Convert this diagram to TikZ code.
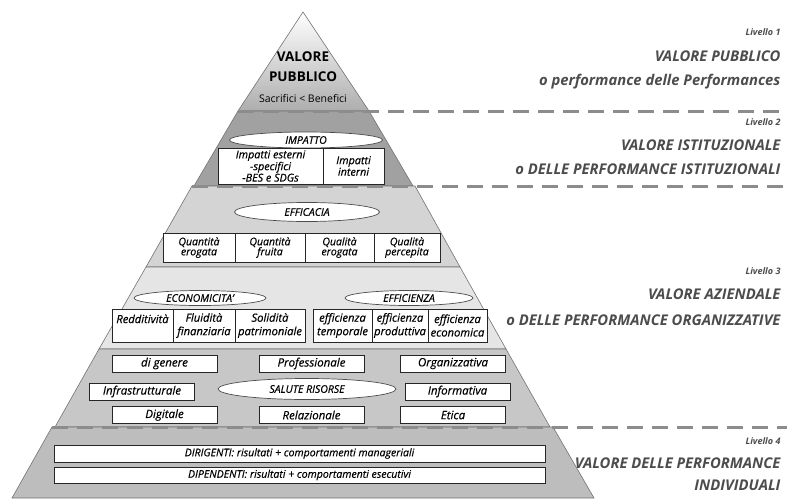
\documentclass[tikz,border=0pt]{standalone}
\usepackage{fontspec}
\setmainfont{Open Sans}
\usetikzlibrary{shapes.geometric,positioning}

\definecolor{edge}{gray}{0.45}
\definecolor{sidetxt}{gray}{0.3}
\tikzset{
  box/.style={draw=black!85, fill=white, line width=1pt, outer sep=0pt, inner sep=0pt,
    align=center, font=\itshape\addfontfeature{FakeBold=0.4}\fontsize{10.5}{10}\selectfont},
  oval/.style={ellipse, draw=black!70, fill=white, line width=0.7pt, inner sep=0pt,
    font=\itshape\addfontfeature{FakeBold=0.4}\fontsize{10.5}{10}\selectfont},
  side/.style={anchor=east, text=sidetxt, font=\bfseries\itshape\fontsize{14.8}{16}\selectfont},
  lvl/.style={anchor=east, text=sidetxt, font=\bfseries\itshape\fontsize{9}{10}\selectfont},
  sep/.style={draw=black!45, line width=3pt, dash pattern=on 16pt off 9pt},
  band/.style={draw=edge, line width=0.6pt},
}

\begin{document}
\begin{tikzpicture}[x=1pt,y=-1pt]
\useasboundingbox (0,0) rectangle (787,498);

% pyramid corners
\coordinate (apex) at (303,12);
\coordinate (a1) at (238,111); \coordinate (b1) at (369,111);
\coordinate (a2) at (194,186); \coordinate (b2) at (413,186);
\coordinate (c0) at (192,186); \coordinate (d0) at (415,186);
\coordinate (c1) at (146,267); \coordinate (d1) at (460,267);
\coordinate (c2) at (99,349);  \coordinate (d2) at (506,349);
\coordinate (c3) at (55,427);  \coordinate (d3) at (550,427);
\coordinate (e0) at (52,427);  \coordinate (f0) at (553,427);
\coordinate (e1) at (12,498);  \coordinate (f1) at (594,498);

% livello 1
\shade[top color=white, bottom color=black!32] (apex) -- (b1) -- (a1) -- cycle;
\draw[band] (apex) -- (b1) -- (a1) -- cycle;
% livello 2
\filldraw[band, fill=black!37] (a1) -- (b1) -- (b2) -- (a2) -- cycle;
% livello 3
\filldraw[band, fill=black!17] (c0) -- (d0) -- (d1) -- (c1) -- cycle;
\filldraw[band, fill=black!10] (c1) -- (d1) -- (d2) -- (c2) -- cycle;
\filldraw[band, fill=black!22] (c2) -- (d2) -- (d3) -- (c3) -- cycle;
% livello 4
\filldraw[band, fill=black!26] (e0) -- (f0) -- (f1) -- (e1) -- cycle;

% separators
\coordinate (s1) at (787,111);
\coordinate (s2) at (787,186);
\coordinate (s3) at (787,427);
\draw[sep] (a1) -- (s1);
\draw[sep] (c0) -- (s2);
\draw[sep] (e0) -- (s3);

% vertice
\node[font=\bfseries\fontsize{13.5}{20}\selectfont, align=center] (vp) at (303,67) {VALORE\\PUBBLICO};
\node[font=\fontsize{10.5}{12}\selectfont] (sb) at (303,99) {Sacrifici < Benefici};

% impatto
\node[oval, minimum width=153, minimum height=16] (imp) at (306,140) {IMPATTO};
\node[box, minimum width=105, minimum height=36, anchor=north west,
  font=\itshape\addfontfeature{FakeBold=0.4}\fontsize{10.8}{9.6}\selectfont] (iest) at (218,148)
  {Impatti esterni\\-specifici\\-BES e SDGs};
\node[box, minimum width=61, minimum height=36, right=0pt of iest,
  font=\itshape\addfontfeature{FakeBold=0.4}\fontsize{10.8}{9.6}\selectfont] (iint) {Impatti\\interni};

% efficacia
\node[oval, minimum width=145, minimum height=19] (effic) at (307,212) {EFFICACIA};
\node[box, minimum width=72, minimum height=29, anchor=north west] (qer) at (163,233) {Quantità\\erogata};
\node[box, minimum width=70, minimum height=29, right=0pt of qer] (qfr) {Quantità\\fruita};
\node[box, minimum width=69, minimum height=29, right=0pt of qfr] (lqer) {Qualità\\erogata};
\node[box, minimum width=66, minimum height=29, right=0pt of lqer] (lqpe) {Qualità\\percepita};

% economicita ed efficienza
\tikzset{ebox/.style={box, minimum height=33,
  font=\itshape\addfontfeature{FakeBold=0.4}\fontsize{11.2}{13.5}\selectfont}}
\node[oval, minimum width=132, minimum height=15] (econ) at (200,298) {ECONOMICITA’};
\node[oval, minimum width=128, minimum height=15] (effz) at (409,298) {EFFICIENZA};
\node[ebox, minimum width=61, anchor=north west] (red) at (112,309) {Redditività\\\mbox{}};
\node[ebox, minimum width=62, right=0pt of red] (flu) {Fluidità\\finanziaria};
\node[ebox, minimum width=70, right=0pt of flu] (sol) {Solidità\\patrimoniale};
\node[ebox, minimum width=59, anchor=north west] (etem) at (313,309) {efficienza\\temporale};
\node[ebox, minimum width=56, right=0pt of etem] (epro) {efficienza\\produttiva};
\node[ebox, minimum width=59, right=0pt of epro] (eeco) {efficienza\\economica};

% salute risorse
\tikzset{sbox/.style={box, minimum width=105, minimum height=17,
  font=\itshape\addfontfeature{FakeBold=0.4}\fontsize{11.5}{12}\selectfont}}
\node[oval, minimum width=178, minimum height=21] (sal) at (307,389) {SALUTE RISORSE};
\node[sbox] (gen) at (164.5,363.5) {di genere};
\node[sbox] (pro) at (311.5,363.5) {Professionale};
\node[sbox] (org) at (453,363.5) {Organizzativa};
\node[sbox] (inf) at (142,391.5) {Infrastrutturale};
\node[sbox] (ifo) at (457.5,391.5) {Informativa};
\node[sbox] (dig) at (164.5,415) {Digitale};
\node[sbox] (rel) at (311.5,415) {Relazionale};
\node[sbox] (eti) at (453,415) {Etica};

% individuali
\node[box, minimum width=491, minimum height=17] (dir) at (299.5,453.5)
  {DIRIGENTI: risultati + comportamenti manageriali};
\node[box, minimum width=491, minimum height=16, below=5pt of dir] (dip)
  {DIPENDENTI: risultati + comportamenti esecutivi};

% legenda livelli
\node[lvl] (lv1) at (784,32) {Livello 1};
\node[side] (t1a) at (784,56) {VALORE PUBBLICO};
\node[side] (t1b) at (784,82) {o performance delle Performances};
\node[lvl] (lv2) at (784,122) {Livello 2};
\node[side] (t2a) at (784,145) {VALORE ISTITUZIONALE};
\node[side] (t2b) at (784,169) {o DELLE PERFORMANCE ISTITUZIONALI};
\node[lvl] (lv3) at (784,271) {Livello 3};
\node[side] (t3a) at (784,294) {VALORE AZIENDALE};
\node[side] (t3b) at (784,320) {o DELLE PERFORMANCE ORGANIZZATIVE};
\node[lvl] (lv4) at (784,441) {Livello 4};
\node[side] (t4a) at (784,463) {VALORE DELLE PERFORMANCE};
\node[side] (t4b) at (784,485) {INDIVIDUALI};
\end{tikzpicture}
\end{document}
